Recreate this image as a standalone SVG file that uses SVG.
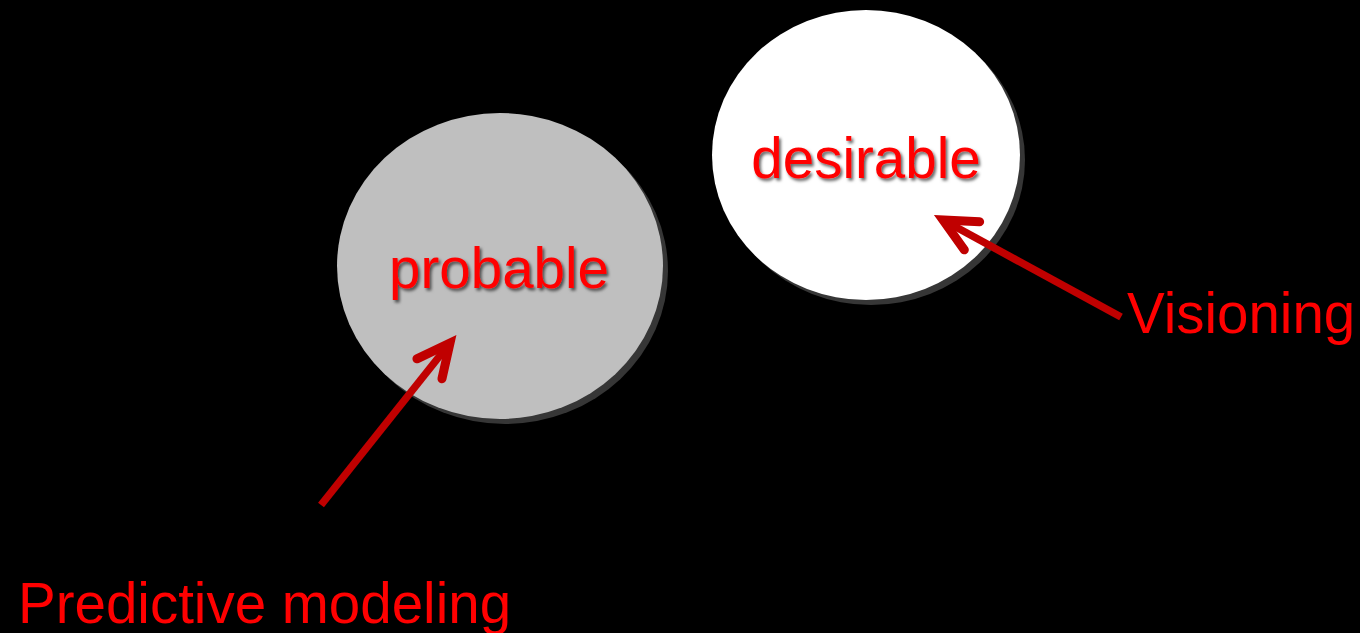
<svg xmlns="http://www.w3.org/2000/svg" width="1360" height="633" viewBox="0 0 1360 633">
  <defs>
    <filter id="textShadow" x="-10%" y="-30%" width="120%" height="160%">
      <feDropShadow dx="2" dy="2.5" stdDeviation="1.5" flood-color="#000" flood-opacity="0.6"/>
    </filter>
    <marker id="chevron" viewBox="-45 -25 55 50" refX="0" refY="0" markerWidth="55" markerHeight="50" markerUnits="userSpaceOnUse" orient="auto" overflow="visible">
      <path d="M -33 -16 L 0 0 L -33 16" fill="none" stroke="#c00000" stroke-width="9" stroke-linecap="round" stroke-linejoin="miter" stroke-miterlimit="10"/>
    </marker>
  </defs>
  <style>
    .bubble-shadow { fill: #363636; }
    .label { font-family: "Liberation Sans", Arial, sans-serif; font-size: 56.5px; fill: #ff0000; }
    .inner { filter: url(#textShadow); text-anchor: middle; }
    .connector { fill: none; stroke: #c00000; stroke-width: 7.5; marker-end: url(#chevron); }
  </style>

  <rect x="0" y="0" width="1360" height="633" fill="#000"/>

  <g id="probable">
    <ellipse class="bubble-shadow" cx="505" cy="271" rx="163" ry="153"/>
    <ellipse cx="500" cy="266" rx="163" ry="153" fill="#bfbfbf"/>
    <text class="label inner" x="499" y="288">probable</text>
  </g>

  <g id="desirable">
    <ellipse class="bubble-shadow" cx="871" cy="160" rx="154" ry="145"/>
    <ellipse cx="866" cy="155" rx="154" ry="145" fill="#ffffff"/>
    <text class="label inner" x="866" y="178">desirable</text>
  </g>

  <g id="predictive-modeling">
    <text class="label" x="18" y="623">Predictive modeling</text>
  </g>

  <g id="visioning">
    <text class="label" x="1127" y="333">Visioning</text>
  </g>

  <g id="connectors">
    <line class="connector" x1="321" y1="505" x2="450" y2="343"/>
    <line class="connector" x1="1121" y1="317" x2="943" y2="220"/>
  </g>
</svg>
